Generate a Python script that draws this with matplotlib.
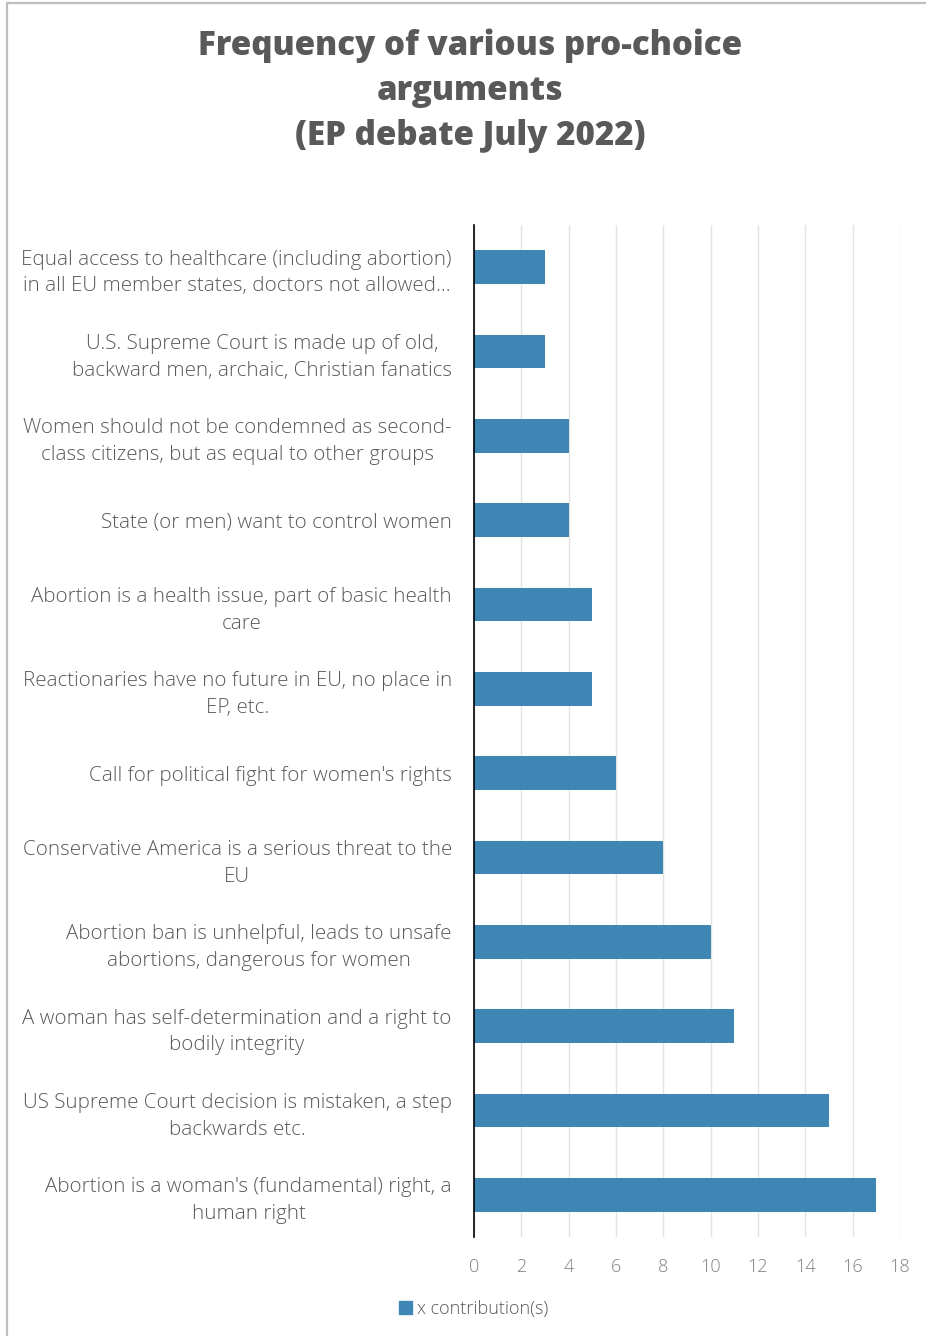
import matplotlib
matplotlib.use("Agg")
import matplotlib.pyplot as plt
from matplotlib.patches import Rectangle, Patch

# data (top to bottom as shown)
arguments = [
    "Equal access to healthcare (including abortion)\nin all EU member states, doctors not allowed...",
    "U.S. Supreme Court is made up of old,\nbackward men, archaic, Christian fanatics",
    "Women should not be condemned as second-\nclass citizens, but as equal to other groups",
    "State (or men) want to control women",
    "Abortion is a health issue, part of basic health\ncare",
    "Reactionaries have no future in EU, no place in\nEP, etc.",
    "Call for political fight for women's rights",
    "Conservative America is a serious threat to the\nEU",
    "Abortion ban is unhelpful, leads to unsafe\nabortions, dangerous for women",
    "A woman has self-determination and a right to\nbodily integrity",
    "US Supreme Court decision is mistaken, a step\nbackwards etc.",
    "Abortion is a woman's (fundamental) right, a\nhuman right",
]
counts = [3, 3, 4, 4, 5, 5, 6, 8, 10, 11, 15, 17]
xticks = [0, 2, 4, 6, 8, 10, 12, 14, 16, 18]

bar_color = "#3e87b5"
text_gray = "#595959"
W, H = 926, 1336

fig = plt.figure(figsize=(W / 100, H / 100), dpi=100)
fig.patch.set_facecolor("white")

# chart border (cropped at right/bottom)
fig.patches.append(Rectangle((7 / W, -0.1), 1.2, 1 - 3 / H + 0.1, transform=fig.transFigure,
                             fill=False, edgecolor="#bfbfbf", lw=1.6))

ax = fig.add_axes([474 / W, 1 - 1237 / H, (900 - 474) / W, (1237 - 225) / H])
ypos = list(range(len(arguments)))
ax.barh(ypos, counts, height=0.4, color=bar_color, zorder=3)
ax.set_ylim(len(arguments) - 0.5, -0.5)
ax.set_xlim(0, 18)
ax.set_xticks(xticks)
ax.set_xticklabels([str(t) for t in xticks], fontsize=13, color="#808080",
                   family="Open Sans", fontweight="light")
ax.set_yticks(ypos)
ax.set_yticklabels(arguments, fontsize=14.8, color=text_gray,
                   family="Open Sans", fontweight="light")
for lbl in ax.get_yticklabels():
    lbl.set_multialignment("center")
    lbl.set_linespacing(1.45)
ax.tick_params(axis="y", length=0, pad=16)
ax.tick_params(axis="x", length=0, pad=15)
ax.grid(axis="x", color="#e3e3e3", lw=1, zorder=0)
for s in ["top", "right", "bottom"]:
    ax.spines[s].set_visible(False)
ax.spines["left"].set_color("black")
ax.spines["left"].set_linewidth(1.2)
ax.spines["left"].set_zorder(4)

fig.text(470 / W, 1 - 91 / H, "Frequency of various pro-choice\narguments\n(EP debate July 2022)",
         ha="center", va="center", fontsize=23.9, fontweight="heavy", color=text_gray,
         family="Open Sans", linespacing=1.42)

fig.legend(handles=[Patch(color=bar_color)], labels=["x contribution(s)"],
           loc="center", bbox_to_anchor=(474 / W, 1 - 1309 / H), frameon=False,
           handlelength=0.7, handleheight=0.7, handletextpad=0.3,
           prop={"family": "Open Sans", "weight": "light", "size": 13},
           labelcolor=text_gray)

fig.savefig("out.png", dpi=100)
